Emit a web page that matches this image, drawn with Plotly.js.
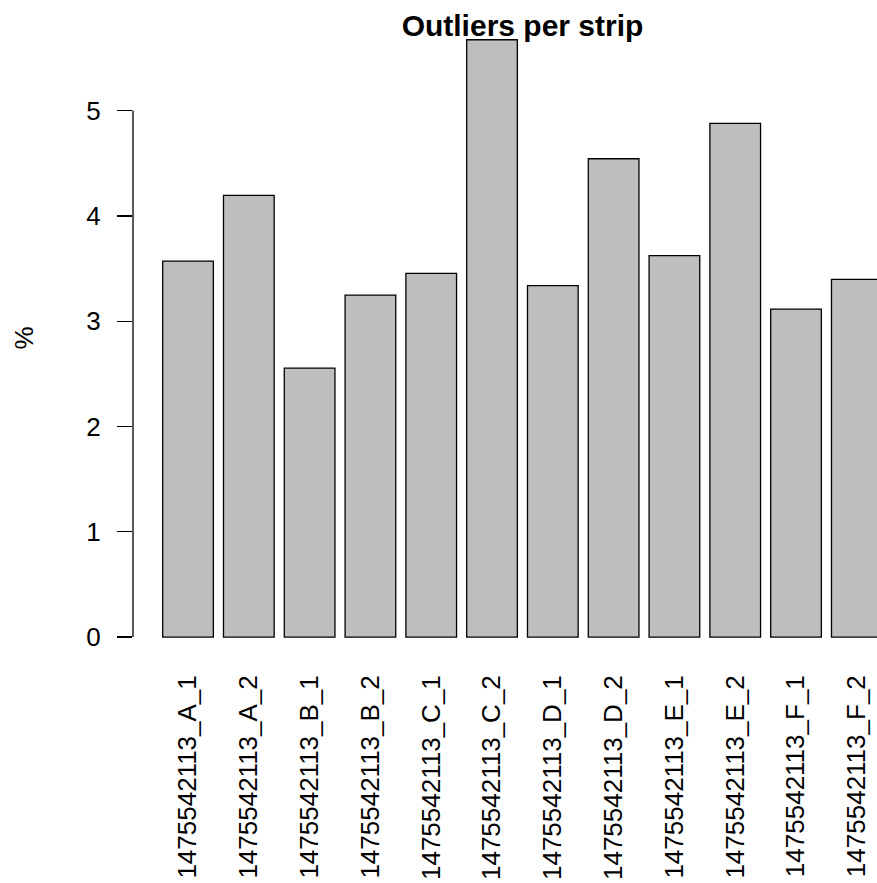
<!DOCTYPE html>
<html>
<head>
<meta charset="utf-8">
<script src="https://cdn.plot.ly/plotly-3.0.1.min.js"></script>
<style>html,body{margin:0;padding:0;background:#fff;}#chart{width:877px;height:883px;}</style>
</head>
<body>
<div id="chart"></div>
<script>
const categories = ["1475542113_A_1","1475542113_A_2","1475542113_B_1","1475542113_B_2","1475542113_C_1","1475542113_C_2","1475542113_D_1","1475542113_D_2","1475542113_E_1","1475542113_E_2","1475542113_F_1","1475542113_F_2"];
const outlierPct = [3.571, 4.195, 2.555, 3.248, 3.454, 5.673, 3.337, 4.543, 3.622, 4.878, 3.115, 3.397];
const yTicks = [0, 1, 2, 3, 4, 5];
const yTickLabels = ["0", "1", "2", "3", "4", "5"];

const FONT = "Liberation Sans, Arial, Helvetica, sans-serif";

const trace = {
  type: "bar",
  x: categories,
  y: outlierPct,
  marker: {color: "#BEBEBE", line: {color: "#000000", width: 1.3}},
  hoverinfo: "none"
};

const layout = {
  width: 877,
  height: 883,
  margin: {l: 133, r: 0, t: 15, b: 222, pad: 0},
  paper_bgcolor: "#ffffff",
  plot_bgcolor: "#ffffff",
  showlegend: false,
  bargap: 1/6,
  font: {family: FONT, color: "#000000", size: 26},
  title: {
    text: "<b>Outliers per strip</b>",
    font: {family: FONT, size: 30, color: "#000000"},
    x: 522.5/877, xanchor: "center", xref: "container",
    y: 1 - 15/883, yanchor: "top", yref: "container"
  },
  xaxis: {
    type: "category",
    range: [-0.905, 11.332],
    showline: false, showgrid: false, zeroline: false,
    ticks: "",
    tickangle: -90,
    tickfont: {family: FONT, size: 26, color: "#000000"},
    ticklabelstandoff: 8
  },
  yaxis: {
    range: [-0.227, 5.908],
    showline: false, showgrid: false, zeroline: false,
    tickmode: "array", tickvals: yTicks, ticktext: yTickLabels,
    ticks: "outside", ticklen: 15, tickwidth: 1.3, tickcolor: "#000000",
    tickfont: {family: FONT, size: 26, color: "#000000"},
    ticklabelstandoff: 11,
    title: {text: "%", font: {family: FONT, size: 26, color: "#000000"}, standoff: 45}
  },
  shapes: [{
    type: "line", xref: "paper", yref: "y",
    x0: 0, x1: 0, y0: yTicks[0], y1: yTicks[yTicks.length - 1],
    line: {color: "#000000", width: 1.3}
  }]
};

Plotly.newPlot("chart", [trace], layout, {staticPlot: true, displayModeBar: false});
</script>
</body>
</html>
